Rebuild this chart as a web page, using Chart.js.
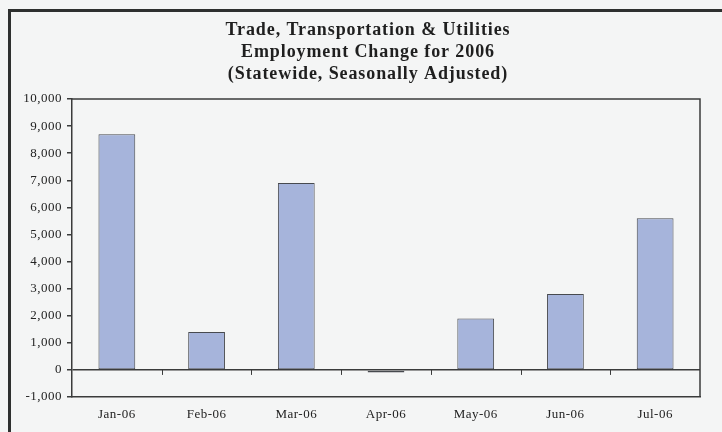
<!DOCTYPE html>
<html>
<head>
<meta charset="utf-8">
<script src="https://cdn.jsdelivr.net/npm/chart.js@4"></script>
<style>
  html, body { margin: 0; padding: 0; background: #f4f5f5; }
  canvas { display: block; }
</style>
</head>
<body>
<canvas id="tradeChart" width="722" height="432"></canvas>
<script>
// --- datos del grafico ---
const months = ['Jan-06', 'Feb-06', 'Mar-06', 'Apr-06', 'May-06', 'Jun-06', 'Jul-06'];
const jobChange = [8700, 1400, 6900, -100, 1900, 2800, 5600];
const titleLines = [
    'Trade, Transportation & Utilities',
    'Employment Change for 2006',
    '(Statewide, Seasonally Adjusted)'
];
const yMin = -1000;
const yMax = 10000;
const yStep = 1000;

const lineColor = '#3a3b3b';
const serif = "'Liberation Serif', 'Times New Roman', serif";

// espaciado de letras (el escaneo tiene el texto algo abierto)
const spacingPlugin = {
    id: 'spacing',
    beforeUpdate(chart) { chart.ctx.letterSpacing = '0.5px'; },
    beforeDraw(chart) { chart.ctx.letterSpacing = '0.5px'; }
};

// fondo + marco exterior del escaneo + titulo
const framePlugin = {
    id: 'frame',
    beforeDraw(chart) {
        const ctx = chart.ctx;
        ctx.save();
        ctx.fillStyle = '#f4f5f5';
        ctx.fillRect(0, 0, chart.width, chart.height);
        ctx.strokeStyle = '#2e302f';
        ctx.lineWidth = 3;
        ctx.beginPath();
        ctx.moveTo(9.5, chart.height);
        ctx.lineTo(9.5, 10.5);
        ctx.lineTo(chart.width, 10.5);
        ctx.stroke();

        // titulo en 3 lineas
        ctx.fillStyle = '#1f1f1f';
        ctx.font = 'bold 18px ' + serif;
        ctx.letterSpacing = '0.9px';
        ctx.textAlign = 'center';
        ctx.textBaseline = 'middle';
        titleLines.forEach((t, i) => ctx.fillText(t, 368, 30 + i * 22));
        ctx.restore();
    },
    afterDraw(chart) {
        // caja del area de trazado (arriba y derecha)
        const { ctx, chartArea: a } = chart;
        ctx.save();
        ctx.strokeStyle = lineColor;
        ctx.lineWidth = 1.5;
        ctx.beginPath();
        ctx.moveTo(a.left, a.top);
        ctx.lineTo(a.right, a.top);
        ctx.lineTo(a.right, a.bottom);
        ctx.stroke();
        ctx.restore();
    }
};

// marcas del eje x sobre la linea de cero
const zeroTicksPlugin = {
    id: 'zeroTicks',
    afterDatasetsDraw(chart) {
        const { ctx, scales: { x, y } } = chart;
        const y0 = y.getPixelForValue(0);
        ctx.save();
        ctx.strokeStyle = lineColor;
        ctx.lineWidth = 1;
        for (let i = 1; i < months.length; i++) {
            const px = Math.round((x.getPixelForValue(i - 1) + x.getPixelForValue(i)) / 2) + 0.5;
            ctx.beginPath();
            ctx.moveTo(px, y0);
            ctx.lineTo(px, y0 + 5);
            ctx.stroke();
        }
        ctx.restore();
    }
};

const ctx = document.getElementById('tradeChart').getContext('2d');
new Chart(ctx, {
    type: 'bar',
    data: {
        labels: months,
        datasets: [{
            label: 'Employment Change',
            data: jobChange,
            backgroundColor: '#a6b4db',
            borderColor: '#474a4f',
            borderWidth: 1,
            borderSkipped: false,
            barPercentage: 0.41,
            categoryPercentage: 1
        }]
    },
    options: {
        responsive: false,
        animation: false,
        layout: { padding: { left: 0, right: 22, top: 99, bottom: 0 } },
        plugins: {
            legend: { display: false },
            tooltip: { enabled: false },
            title: { display: false }
        },
        scales: {
            x: {
                afterFit(scale) { scale.height = 35; },
                grid: { display: false, drawTicks: false },
                border: { display: true, color: lineColor, width: 1.5 },
                ticks: { color: '#222', padding: 10, font: { family: serif, size: 13 } }
            },
            y: {
                min: yMin,
                max: yMax,
                afterFit(scale) { scale.width = 72; },
                grid: {
                    color: c => c.tick && c.tick.value === 0 ? lineColor : 'transparent',
                    lineWidth: 1.5,
                    tickColor: lineColor,
                    tickLength: 5
                },
                border: { display: true, color: lineColor, width: 1.5 },
                ticks: {
                    stepSize: yStep,
                    color: '#222',
                    padding: 5,
                    font: { family: serif, size: 13 },
                    callback: v => v.toLocaleString('en-US')
                }
            }
        }
    },
    plugins: [spacingPlugin, framePlugin, zeroTicksPlugin]
});
</script>
</body>
</html>
